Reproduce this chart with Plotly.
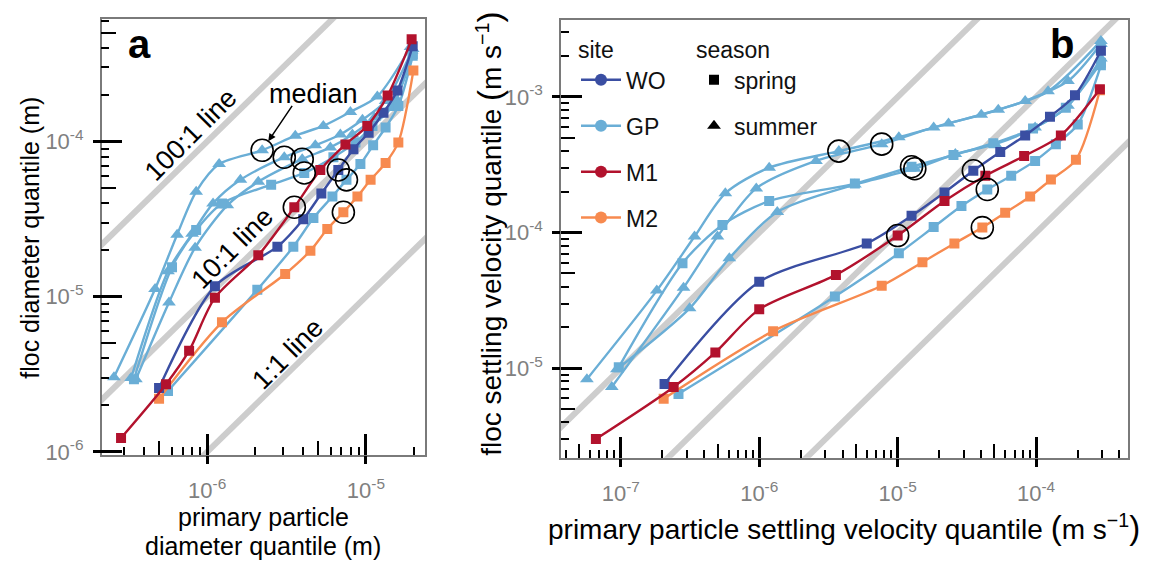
import numpy as np
import plotly.graph_objects as go

W, H = 1155, 573

# ---------------- data: panel a (primary particle diameter vs floc diameter, m) -------------
A_GP_T1_x = [2.59e-7, 4.70e-7, 6.47e-7, 8.53e-7, 1.19e-6, 2.22e-6, 3.59e-6, 5.39e-6, 7.98e-6, 1.18e-5, 1.91e-5]
A_GP_T1_y = [3.03e-6, 1.12e-5, 2.51e-5, 4.75e-5, 7.15e-5, 8.77e-5, 1.09e-4, 1.26e-4, 1.55e-4, 1.95e-4, 4.06e-4]
A_GP_T2_x = [3.32e-7, 5.67e-7, 8.04e-7, 1.09e-6, 1.62e-6, 3.06e-6, 4.80e-6, 6.90e-6, 9.51e-6, 1.33e-5, 1.94e-5]
A_GP_T2_y = [2.99e-6, 1.46e-5, 2.54e-5, 3.99e-5, 5.66e-5, 7.92e-5, 9.44e-5, 1.11e-4, 1.38e-4, 1.82e-4, 3.82e-4]
A_GP_T3_x = [3.56e-7, 5.75e-7, 8.40e-7, 1.34e-6, 2.10e-6, 3.97e-6, 5.97e-6, 8.22e-6, 1.13e-5, 1.54e-5, 1.97e-5]
A_GP_T3_y = [2.94e-6, 9.17e-6, 2.07e-5, 3.88e-5, 5.50e-5, 7.69e-5, 9.16e-5, 1.11e-4, 1.42e-4, 1.90e-4, 3.94e-4]
A_GP_S1_x = [3.46e-7, 6.01e-7, 8.53e-7, 1.24e-6, 2.53e-6, 4.09e-6, 6.24e-6, 8.59e-6, 1.10e-5, 1.47e-5, 1.97e-5]
A_GP_S1_y = [2.94e-6, 1.55e-5, 2.69e-5, 3.99e-5, 5.27e-5, 6.27e-5, 7.92e-5, 9.86e-5, 1.26e-4, 1.69e-4, 3.66e-4]
A_GP_S2_x = [5.67e-7, 2.07e-6, 3.49e-6, 4.67e-6, 6.15e-6, 7.54e-6, 9.23e-6, 1.11e-5, 1.33e-5, 1.60e-5, 1.97e-5]
A_GP_S2_y = [2.47e-6, 1.11e-5, 2.10e-5, 3.21e-5, 4.42e-5, 5.66e-5, 7.15e-5, 9.44e-5, 1.23e-4, 1.69e-4, 3.56e-4]
A_WO_x = [4.98e-7, 1.12e-6, 2.77e-6, 4.03e-6, 5.24e-6, 6.70e-6, 8.34e-6, 1.04e-5, 1.29e-5, 1.58e-5, 1.97e-5]
A_WO_y = [2.58e-6, 1.17e-5, 2.10e-5, 3.16e-5, 4.62e-5, 6.55e-5, 8.90e-5, 1.14e-4, 1.53e-4, 2.13e-4, 4.11e-4]
A_M1_x = [2.87e-7, 5.51e-7, 7.70e-7, 1.12e-6, 2.10e-6, 3.54e-6, 5.16e-6, 7.43e-6, 1.02e-5, 1.37e-5, 1.94e-5]
A_M1_y = [1.23e-6, 2.73e-6, 4.49e-6, 9.86e-6, 1.85e-5, 3.77e-5, 6.55e-5, 9.57e-5, 1.26e-4, 1.98e-4, 4.55e-4]
A_M2_x = [4.98e-7, 1.24e-6, 3.10e-6, 4.47e-6, 5.71e-6, 7.21e-6, 8.84e-6, 1.07e-5, 1.33e-5, 1.60e-5, 1.99e-5]
A_M2_y = [2.20e-6, 6.84e-6, 1.40e-5, 1.98e-5, 2.73e-5, 3.50e-5, 4.42e-5, 5.66e-5, 7.26e-5, 9.86e-5, 2.86e-4]

# ---------------- data: panel b (settling velocities, m s-1) ----------------
B_GP_T1_x = [5.69e-8, 1.82e-7, 3.41e-7, 5.69e-7, 1.18e-6, 3.76e-6, 1.02e-5, 2.33e-5, 5.33e-5, 1.22e-4, 2.94e-4]
B_GP_T1_y = [8.32e-6, 3.74e-5, 9.36e-5, 1.95e-4, 3.01e-4, 3.99e-4, 5.05e-4, 6.37e-4, 8.05e-4, 1.10e-3, 2.59e-3]
B_GP_T2_x = [8.61e-8, 2.84e-7, 4.99e-7, 9.52e-7, 2.57e-6, 7.67e-6, 1.82e-5, 4.02e-5, 8.34e-5, 1.70e-4, 2.94e-4]
B_GP_T2_y = [7.28e-6, 3.93e-5, 9.36e-5, 2.12e-4, 3.38e-4, 4.49e-4, 5.96e-4, 7.41e-4, 9.35e-4, 1.31e-3, 2.46e-3]
B_GP_T3_x = [9.37e-8, 3.14e-7, 6.08e-7, 1.35e-6, 4.91e-6, 1.33e-5, 2.61e-5, 5.07e-5, 9.84e-5, 1.70e-4, 2.94e-4]
B_GP_T3_y = [9.84e-6, 2.77e-5, 6.48e-5, 1.42e-4, 2.26e-4, 2.96e-4, 3.80e-4, 4.49e-4, 5.96e-4, 8.61e-4, 1.92e-3]
B_GP_S1_x = [9.67e-8, 2.79e-7, 5.42e-7, 1.18e-6, 4.91e-6, 1.26e-5, 2.53e-5, 4.91e-5, 9.51e-5, 1.64e-4, 2.94e-4]
B_GP_S1_y = [1.02e-5, 5.96e-5, 1.14e-4, 1.71e-4, 2.30e-4, 3.06e-4, 3.73e-4, 4.56e-4, 5.86e-4, 8.32e-4, 1.79e-3]
B_GP_S2_x = [2.61e-7, 3.52e-6, 1.02e-5, 1.82e-5, 2.89e-5, 4.44e-5, 6.61e-5, 9.84e-5, 1.39e-4, 2.00e-4, 2.94e-4]
B_GP_S2_y = [6.48e-6, 3.38e-5, 7.05e-5, 1.10e-4, 1.57e-4, 2.08e-4, 2.63e-4, 3.38e-4, 4.49e-4, 6.27e-4, 1.71e-3]
B_WO_x = [2.07e-7, 1.00e-6, 5.98e-6, 1.26e-5, 2.18e-5, 3.52e-5, 5.51e-5, 8.34e-5, 1.26e-4, 1.91e-4, 2.94e-4]
B_WO_y = [7.66e-6, 4.34e-5, 8.32e-5, 1.33e-4, 1.98e-4, 2.86e-4, 3.93e-4, 5.21e-4, 7.16e-4, 1.03e-3, 2.19e-3]
B_M1_x = [6.61e-8, 2.41e-7, 4.82e-7, 1.00e-6, 3.58e-6, 1.00e-5, 2.18e-5, 4.30e-5, 8.20e-5, 1.51e-4, 2.89e-4]
B_M1_y = [3.01e-6, 7.28e-6, 1.31e-5, 2.72e-5, 4.88e-5, 9.52e-5, 1.71e-4, 2.63e-4, 3.67e-4, 5.21e-4, 1.14e-3]
B_M2_x = [2.04e-7, 1.26e-6, 7.67e-6, 1.51e-5, 2.57e-5, 4.09e-5, 5.98e-5, 9.06e-5, 1.28e-4, 1.94e-4, 2.89e-4]
B_M2_y = [5.96e-6, 1.88e-5, 4.06e-5, 6.06e-5, 8.32e-5, 1.09e-4, 1.40e-4, 1.85e-4, 2.46e-4, 3.44e-4, 1.12e-3]

MEDIAN_INDEX = 5
RATIOS = [1, 10, 100]
RATIO_LABELS = ["1:1 line", "10:1 line", "100:1 line"]
SITES = ["WO", "GP", "M1", "M2"]
SEASONS = ["spring", "summer"]

A_SERIES = [("GP", "summer", A_GP_T1_x, A_GP_T1_y), ("GP", "summer", A_GP_T2_x, A_GP_T2_y),
            ("GP", "summer", A_GP_T3_x, A_GP_T3_y), ("GP", "spring", A_GP_S1_x, A_GP_S1_y),
            ("GP", "spring", A_GP_S2_x, A_GP_S2_y), ("M2", "spring", A_M2_x, A_M2_y),
            ("WO", "spring", A_WO_x, A_WO_y), ("M1", "spring", A_M1_x, A_M1_y)]
B_SERIES = [("GP", "summer", B_GP_T1_x, B_GP_T1_y), ("GP", "summer", B_GP_T2_x, B_GP_T2_y),
            ("GP", "summer", B_GP_T3_x, B_GP_T3_y), ("GP", "spring", B_GP_S1_x, B_GP_S1_y),
            ("GP", "spring", B_GP_S2_x, B_GP_S2_y), ("M2", "spring", B_M2_x, B_M2_y),
            ("WO", "spring", B_WO_x, B_WO_y), ("M1", "spring", B_M1_x, B_M1_y)]

COL = {"WO": "#3a4ea2", "GP": "#6aaed6", "M1": "#b2122d", "M2": "#f78a4f"}
SYM = {"spring": "square", "summer": "triangle-up"}
MSIZE = {"spring": 10, "summer": 12}
GRAY = "#cdcdcd"
FONT = "Liberation Sans, Arial, sans-serif"


def pxx(x):
    return x / W


def pxy(y):
    return 1 - y / H


fig = go.Figure()

# reference ratio lines
ref_x = np.array([1e-9, 1e-1])
for xa, ya in [("x", "y"), ("x2", "y2")]:
    for r in RATIOS:
        fig.add_trace(go.Scatter(x=ref_x, y=r * ref_x, mode="lines", xaxis=xa, yaxis=ya,
                                 line=dict(color=GRAY, width=6), showlegend=False, hoverinfo="skip"))

# data series
for series, xa, ya in [(A_SERIES, "x", "y"), (B_SERIES, "x2", "y2")]:
    for site, season, xs, ys in series:
        fig.add_trace(go.Scatter(x=xs, y=ys, mode="lines+markers", xaxis=xa, yaxis=ya,
                                 line=dict(color=COL[site], width=2.4, shape="spline", smoothing=0.8),
                                 marker=dict(symbol=SYM[season], size=MSIZE[season], color=COL[site],
                                             line=dict(width=0)),
                                 showlegend=False))
    fig.add_trace(go.Scatter(x=[s[2][MEDIAN_INDEX] for s in series], y=[s[3][MEDIAN_INDEX] for s in series],
                             mode="markers", xaxis=xa, yaxis=ya, showlegend=False,
                             marker=dict(symbol="circle-open", size=22, color="black", line=dict(width=1.6))))

# legend entries
for site in SITES:
    fig.add_trace(go.Scatter(x=[None], y=[None], xaxis="x2", yaxis="y2", mode="lines+markers", name=site,
                             legend="legend", legendgroup=site,
                             line=dict(color=COL[site], width=2.5),
                             marker=dict(symbol="circle", size=12, color=COL[site])))
for season in SEASONS:
    fig.add_trace(go.Scatter(x=[None], y=[None], xaxis="x2", yaxis="y2", mode="markers", name=season,
                             legend="legend2", legendgroup=season,
                             marker=dict(symbol=SYM[season], size=MSIZE[season], color="black")))

# dummy traces for overlay tick axes
fig.add_trace(go.Scatter(x=[None], y=[None], xaxis="x3", yaxis="y3", showlegend=False, hoverinfo="skip"))
fig.add_trace(go.Scatter(x=[None], y=[None], xaxis="x4", yaxis="y4", showlegend=False, hoverinfo="skip"))


def log_ticks(e0, e1):
    majors = [10.0 ** e for e in range(e0, e1 + 1)]
    minors = [k * 10.0 ** e for e in range(e0 - 1, e1 + 1) for k in range(2, 10)]
    fives = [5 * 10.0 ** e for e in range(e0 - 1, e1 + 1)]
    return majors, minors, fives


def main_axis(rng, dom, anchor, majors, minors, standoff):
    return dict(type="log", range=rng, domain=dom, anchor=anchor, showgrid=False, zeroline=False,
                showline=True, mirror=True, linecolor="#7a7a7a", linewidth=1.5,
                ticks="inside", ticklen=21, tickwidth=2.5, tickcolor="black",
                tickvals=majors, ticktext=["10<sup>%d</sup>" % round(np.log10(v)) for v in majors],
                tickfont=dict(family=FONT, size=22, color="#808080"), ticklabelstandoff=standoff,
                minor=dict(ticks="inside", ticklen=8, tickwidth=2, tickcolor="black", tickvals=minors,
                           showgrid=False))


def over_axis(rng, overlay, anchor, side, majors, fives):
    return dict(type="log", range=rng, overlaying=overlay, anchor=anchor, side=side, showgrid=False,
                zeroline=False, showline=False, showticklabels=False,
                ticks="outside", ticklen=8, tickwidth=2.5, tickcolor="black", tickvals=majors,
                minor=dict(ticks="inside", ticklen=14, tickwidth=2, tickcolor="black", tickvals=fives,
                           showgrid=False))


AX_RNG = [-6.664, -4.628]
AY_RNG = [-6.019, -3.209]
BX_RNG = [-7.432, -3.336]
BY_RNG = [-5.66, -2.43]

ax_maj, ax_min, ax_five = log_ticks(-6, -5)
ay_maj, ay_min, ay_five = log_ticks(-6, -4)
bx_maj, bx_min, bx_five = log_ticks(-7, -4)
by_maj, by_min, by_five = log_ticks(-5, -3)

dom_ax = [pxx(101.7), pxx(425)]
dom_ay = [pxy(463), pxy(19)]
dom_bx = [pxx(561), pxx(1128)]
dom_by = [pxy(466), pxy(20)]

fig.update_layout(
    width=W, height=H, margin=dict(l=0, r=0, t=0, b=0),
    paper_bgcolor="white", plot_bgcolor="white",
    font=dict(family=FONT, color="#111111"),
    xaxis=main_axis(AX_RNG, dom_ax, "y", ax_maj, ax_min, 15),
    yaxis=main_axis(AY_RNG, dom_ay, "x", ay_maj, ay_min, 12),
    xaxis2=main_axis(BX_RNG, dom_bx, "y2", bx_maj, bx_min, 15),
    yaxis2=main_axis(BY_RNG, dom_by, "x2", by_maj, by_min, 12),
    xaxis3=over_axis(AX_RNG, "x", "y", "bottom", ax_maj, ax_five),
    yaxis3=over_axis(AY_RNG, "y", "x", "left", ay_maj, ay_five),
    xaxis4=over_axis(BX_RNG, "x2", "y2", "bottom", bx_maj, bx_five),
    yaxis4=over_axis(BY_RNG, "y2", "x2", "left", by_maj, by_five),
    legend=dict(x=pxx(576), y=pxy(29), xanchor="left", yanchor="top",
                title=dict(text="site", font=dict(size=23, family=FONT)),
                font=dict(size=23, family=FONT, color="#111"), bgcolor="rgba(0,0,0,0)",
                itemwidth=40, tracegroupgap=13, traceorder="grouped"),
    legend2=dict(x=pxx(694), y=pxy(29), xanchor="left", yanchor="top",
                 title=dict(text="season", font=dict(size=23, family=FONT)),
                 font=dict(size=23, family=FONT, color="#111"), bgcolor="rgba(0,0,0,0)",
                 itemwidth=30, tracegroupgap=13, traceorder="grouped"),
)

ann = []


def paper_text(text, x, y, size, angle=0):
    return dict(text=text, x=pxx(x), y=pxy(y), xref="paper", yref="paper", xanchor="center",
                yanchor="middle", textangle=angle, showarrow=False,
                font=dict(size=size, family=FONT, color="black"))


UNIT = ("<span style='font-size:33px'>(</span>m s<sup>\u22121</sup>"
        "<span style='font-size:33px'>)</span>")

# panel letters
ann.append(paper_text("<b>a</b>", 139, 45, 40))
ann.append(paper_text("<b>b</b>", 1062, 45, 40))
# axis titles
ann.append(paper_text("floc diameter quantile (m)", 30, 242, 25, -90))
ann.append(paper_text("primary particle", 263, 526, 25))
ann.append(paper_text("diameter quantile (m)", 263, 556, 25))
ann.append(paper_text("floc settling velocity quantile " + UNIT, 490, 238, 28, -90))
ann.append(paper_text("primary particle settling velocity quantile " + UNIT, 844, 537, 28))
# ratio line labels (panel a), positioned in log10 data units
RATIO_LABEL_POS = {"100:1 line": (-6.107, -3.956), "10:1 line": (-5.842, -4.684), "1:1 line": (-5.495, -5.367)}
for lab in RATIO_LABELS:
    lx, ly = RATIO_LABEL_POS[lab]
    ann.append(dict(text=lab, x=lx, y=ly, xref="x", yref="y", textangle=-45, showarrow=False,
                    xanchor="center", yanchor="middle", font=dict(size=27, family=FONT, color="black")))
# median label and arrow
mx, my = A_GP_T1_x[MEDIAN_INDEX], A_GP_T1_y[MEDIAN_INDEX]
ann.append(dict(text="", x=np.log10(mx), y=np.log10(my), xref="x", yref="y", showarrow=True,
                ax=31, ay=-46, arrowhead=2, arrowsize=1, arrowwidth=1.5, arrowcolor="black", standoff=11))
ann.append(paper_text("median", 313, 96, 27))
fig.update_layout(annotations=ann)

fig.write_html("out.html")
